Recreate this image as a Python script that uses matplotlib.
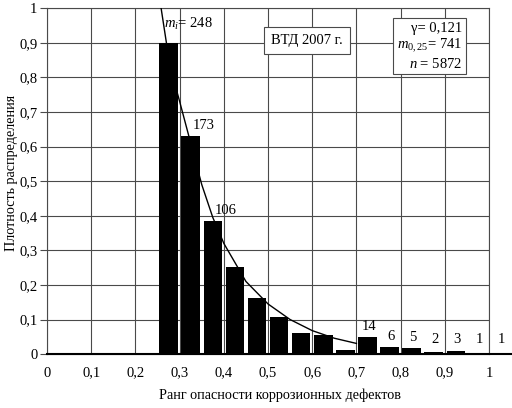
import matplotlib
matplotlib.use("Agg")
import matplotlib.pyplot as plt
import numpy as np

plt.rcParams['font.family'] = ['Liberation Serif', 'DejaVu Serif']
plt.rcParams['mathtext.fontset'] = 'custom'
plt.rcParams['mathtext.rm'] = 'Liberation Serif'
plt.rcParams['mathtext.it'] = 'Liberation Serif:italic'

# Data
bin_left = [0.25, 0.30, 0.35, 0.40, 0.45, 0.50, 0.55, 0.60, 0.65, 0.70,
            0.75, 0.80, 0.85, 0.90, 0.95, 1.00]
density = [0.90, 0.63, 0.385, 0.252, 0.162, 0.108, 0.060, 0.055, 0.013, 0.050,
           0.020, 0.017, 0.006, 0.009, 0.004, 0.003]
counts = [248, 173, 106, None, None, None, None, None, None, 14,
          6, 5, 2, 3, 1, 1]
curve_x = [0.258, 0.27, 0.285, 0.30, 0.325, 0.35, 0.375, 0.40, 0.45, 0.50,
           0.55, 0.60, 0.65, 0.70]
curve_y = [1.0, 0.90, 0.80, 0.73, 0.61, 0.49, 0.395, 0.32, 0.21, 0.145,
           0.10, 0.068, 0.046, 0.031]
xticks = [0, 0.1, 0.2, 0.3, 0.4, 0.5, 0.6, 0.7, 0.8, 0.9, 1.0]
xticklabels = ["0", "0,1", "0,2", "0,3", "0,4", "0,5", "0,6", "0,7", "0,8", "0,9", "1"]
yticks = [0, 0.1, 0.2, 0.3, 0.4, 0.5, 0.6, 0.7, 0.8, 0.9, 1.0]
yticklabels = ["0", "0,1", "0,2", "0,3", "0,4", "0,5", "0,6", "0,7", "0,8", "0,9", "1"]
xlabel = "Ранг опасности коррозионных дефектов"
ylabel = "Плотность распределения"
title_box = "ВТД 2007 г."
stats_lines = [r"γ= 0,121", r"$\mathit{m}_{0,25}$= 741", r"$\mathit{n}$ = 5872"]

bin_w = 0.05
bar_w = 0.042
centers = [b + bin_w / 2 for b in bin_left]

fig = plt.figure(figsize=(5.12, 4.08), dpi=100)
ax = fig.add_axes([0.092, 0.132, 0.863, 0.848])
ax.set_xlim(0, 1.0)
ax.set_ylim(0, 1.0)

grid_c = "#4a4a4a"
ax.set_xticks(xticks)
ax.set_xticklabels(xticklabels)
ax.set_yticks(yticks)
ax.set_yticklabels(yticklabels)
ax.grid(True, color=grid_c, linewidth=0.8)
ax.set_axisbelow(True)
for s in ax.spines.values():
    s.set_color(grid_c)
    s.set_linewidth(0.8)
ax.tick_params(axis='x', length=0, pad=9, labelsize=10.5)
ax.tick_params(axis='y', length=5, width=0.8, color=grid_c, pad=2, labelsize=10.5)

bars = ax.bar(centers, density, width=bar_w, color='black', zorder=3, clip_on=False)
ax.plot([0, centers[-1] + bin_w / 2], [0, 0], color='black', lw=1.5,
        clip_on=False, zorder=4)
ax.plot(curve_x, curve_y, color='black', lw=1.0, zorder=5)

# count labels
for c, h, n in zip(centers, density, counts):
    if n is None:
        continue
    if n == 248:
        ax.text(c - 0.01, h + 0.03, r"$\mathit{m}_{i}$= 248", fontsize=10.5,
                ha='left', va='bottom', zorder=6)
    elif n in (173, 106):
        ax.text(c + 0.005, h + 0.012, str(n), fontsize=10.5, ha='left', va='bottom', zorder=6)
    else:
        ax.text(c + 0.003, max(h, 0.012) + 0.012, str(n), fontsize=10.5,
                ha='center', va='bottom', zorder=6, clip_on=False)

ax.text(0.588, 0.907, title_box, fontsize=10.5, ha='center', va='center', zorder=6,
        bbox=dict(boxstyle='square,pad=0.5', fc='white', ec=grid_c, lw=0.8))
ax.text(0.94, 0.89, "\n".join(stats_lines), fontsize=10.5, ha='right', va='center',
        linespacing=1.15, zorder=6,
        bbox=dict(boxstyle='square,pad=0.25', fc='white', ec=grid_c, lw=0.8))

ax.set_xlabel(xlabel, fontsize=10.2)
ax.xaxis.set_label_coords(0.527, -0.10)
ax.set_ylabel(ylabel, fontsize=10.2)
ax.yaxis.set_label_coords(-0.066, 0.523)

fig.savefig("out.png", dpi=100)
